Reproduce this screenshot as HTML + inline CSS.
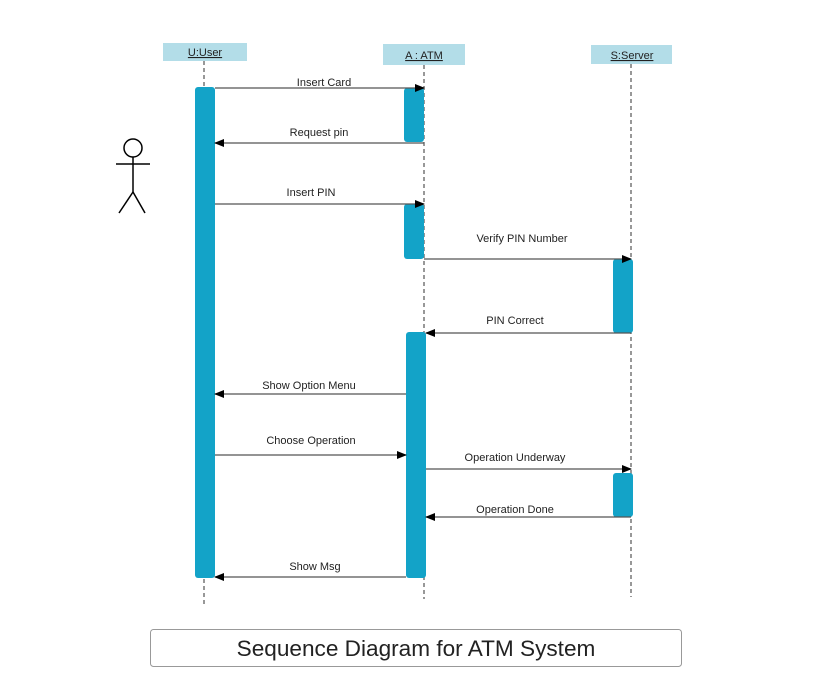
<!DOCTYPE html>
<html><head><meta charset="utf-8"><style>
html,body{margin:0;padding:0;background:#fff;}
svg{display:block;}
text{font-family:"Liberation Sans",Arial,sans-serif;fill:#222;}
</style></head><body>
<svg width="821" height="691" viewBox="0 0 821 691" xmlns="http://www.w3.org/2000/svg">
<defs>
<marker id="a" markerWidth="10" markerHeight="8" refX="9" refY="4" orient="auto" markerUnits="userSpaceOnUse">
<path d="M0,0 L10,4 L0,8 z" fill="#000"/></marker>
</defs>
<rect x="163" y="43" width="84" height="18" fill="#b3dde8"/>
<text x="205" y="56" font-size="11" text-anchor="middle" text-decoration="underline">U:User</text>
<rect x="383" y="44" width="82" height="21" fill="#b3dde8"/>
<text x="424" y="59" font-size="11" text-anchor="middle" text-decoration="underline">A : ATM</text>
<rect x="591" y="45" width="81" height="19" fill="#b3dde8"/>
<text x="632" y="59" font-size="11" text-anchor="middle" text-decoration="underline">S:Server</text>
<g stroke="#777" stroke-width="1.5" stroke-dasharray="4,3">
<line x1="204" y1="61" x2="204" y2="607"/>
<line x1="424" y1="65" x2="424" y2="599"/>
<line x1="631" y1="64" x2="631" y2="597"/>
</g>
<g fill="#13a3c8">
<rect x="195" y="87" width="20" height="491" rx="3"/>
<rect x="404" y="88" width="20" height="54" rx="3"/>
<rect x="404" y="204" width="20" height="55" rx="3"/>
<rect x="406" y="332" width="20" height="246" rx="3"/>
<rect x="613" y="259" width="20" height="74" rx="3"/>
<rect x="613" y="473" width="20" height="44" rx="3"/>
</g>
<g stroke="#555" stroke-width="1.2" marker-end="url(#a)">
<line x1="215" y1="88" x2="424" y2="88"/>
<line x1="424" y1="143" x2="215" y2="143"/>
<line x1="215" y1="204" x2="424" y2="204"/>
<line x1="424" y1="259" x2="631" y2="259"/>
<line x1="631" y1="333" x2="426" y2="333"/>
<line x1="406" y1="394" x2="215" y2="394"/>
<line x1="215" y1="455" x2="406" y2="455"/>
<line x1="426" y1="469" x2="631" y2="469"/>
<line x1="631" y1="517" x2="426" y2="517"/>
<line x1="406" y1="577" x2="215" y2="577"/>
</g>
<g font-size="11" text-anchor="middle">
<text x="324" y="86">Insert Card</text>
<text x="319" y="136">Request pin</text>
<text x="311" y="196">Insert PIN</text>
<text x="522" y="242">Verify PIN Number</text>
<text x="515" y="324">PIN Correct</text>
<text x="309" y="389">Show Option Menu</text>
<text x="311" y="444">Choose Operation</text>
<text x="515" y="461">Operation Underway</text>
<text x="515" y="513">Operation Done</text>
<text x="315" y="570">Show Msg</text>
</g>
<g stroke="#000" stroke-width="1.5" fill="none">
<circle cx="133" cy="148" r="9"/>
<line x1="133" y1="157" x2="133" y2="192"/>
<line x1="116" y1="164" x2="150" y2="164"/>
<line x1="133" y1="192" x2="119" y2="213"/>
<line x1="133" y1="192" x2="145" y2="213"/>
</g>
<rect x="150.5" y="629.5" width="531" height="37" rx="3" fill="#fff" stroke="#999"/>
<text x="416" y="656" font-size="22.6" text-anchor="middle" fill="#333">Sequence Diagram for ATM System</text>
</svg>
</body></html>
